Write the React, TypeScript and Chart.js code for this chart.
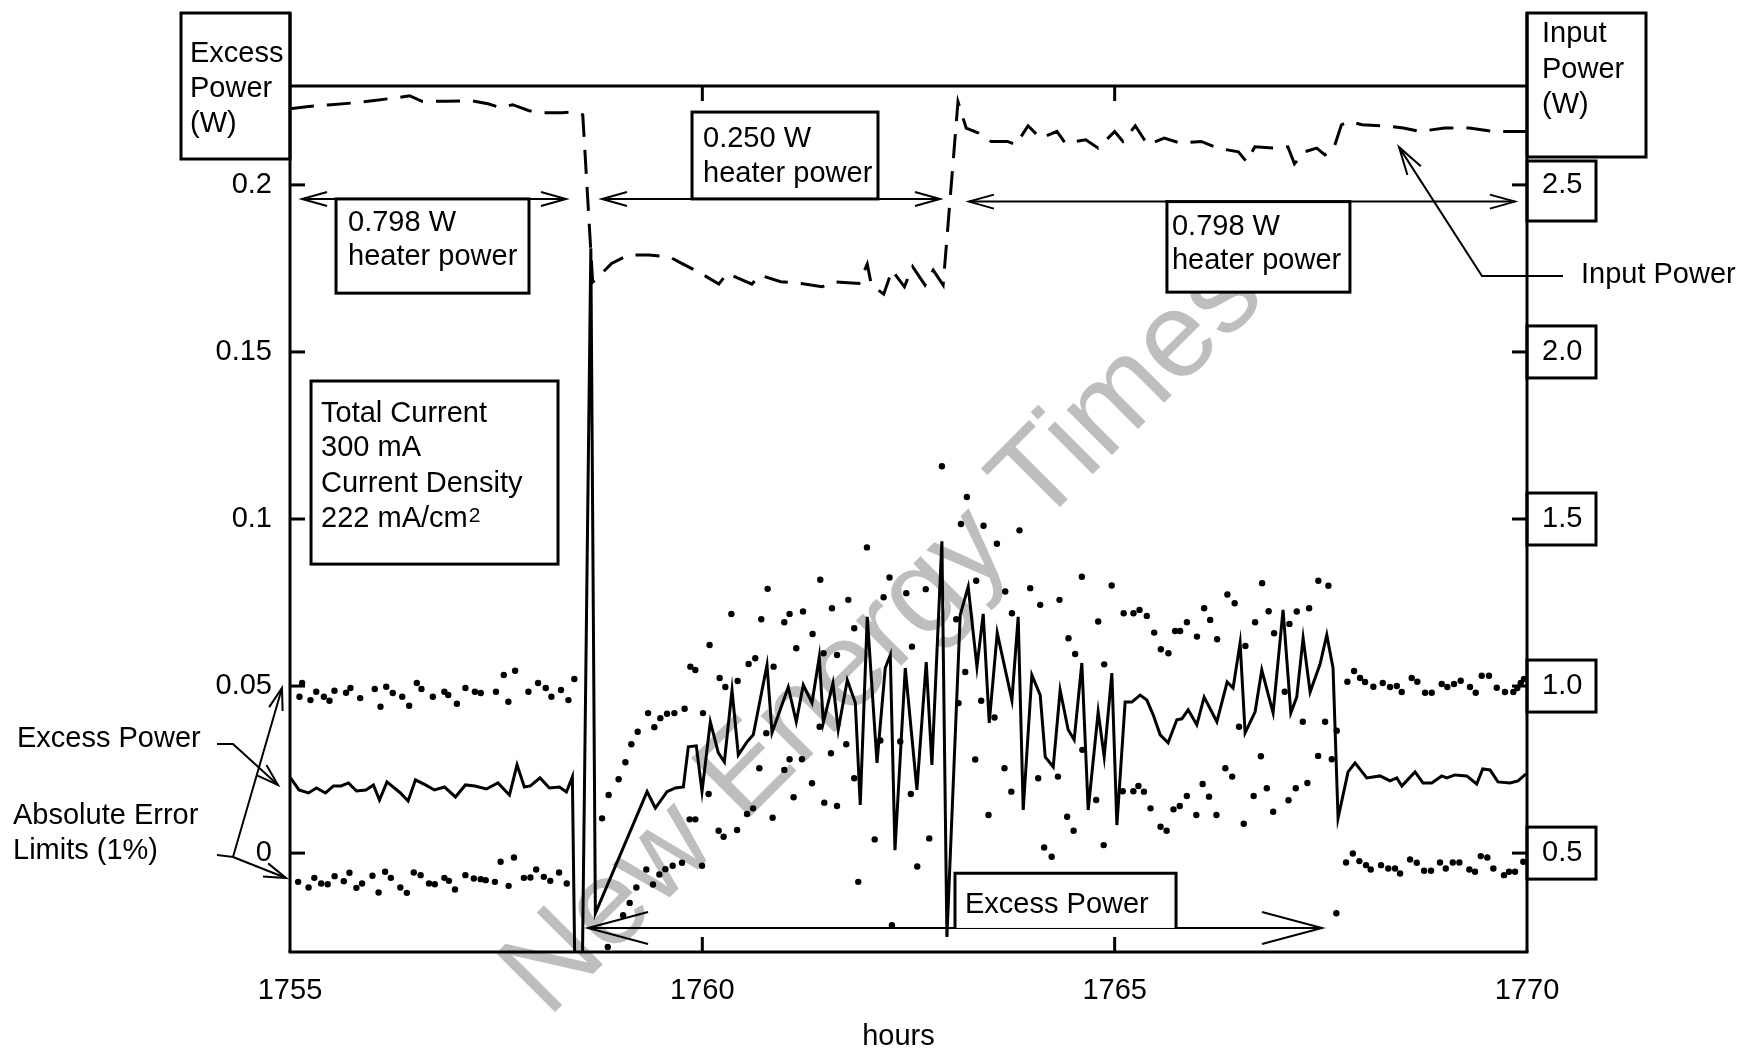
import React, { useEffect, useRef } from 'react';
import { Chart, registerables } from 'chart.js';

Chart.register(...registerables);

const FONT = "'Liberation Sans', Arial, Helvetica, sans-serif";

// ---------------- data ----------------
// Excess power (W, left axis) versus time (hours)
const excessHours = [
  1755.006, 1755.109, 1755.224, 1755.321, 1755.430, 1755.527, 1755.619, 1755.709, 1755.806, 1755.921,
  1756.012, 1756.085, 1756.176, 1756.339, 1756.432, 1756.521, 1756.642, 1756.752, 1756.873, 1757.006,
  1757.127, 1757.242, 1757.382, 1757.521, 1757.661, 1757.753, 1757.842, 1757.915, 1758.032, 1758.145,
  1758.267, 1758.352, 1758.424, 1758.467, 1758.533, 1758.648, 1758.703,
  1759.330, 1759.430, 1759.572, 1759.673, 1759.770, 1759.830, 1759.927, 1759.996, 1760.097, 1760.194,
  1760.267, 1760.360, 1760.436, 1760.542, 1760.618, 1760.784, 1760.845, 1761.042, 1761.139, 1761.224,
  1761.330, 1761.418, 1761.467, 1761.584, 1761.648, 1761.758, 1761.855, 1761.915, 1762.000, 1762.118,
  1762.218, 1762.279, 1762.336, 1762.461, 1762.602, 1762.715, 1762.784, 1762.905, 1762.966, 1763.127,
  1763.224, 1763.330, 1763.406, 1763.479, 1763.576, 1763.754, 1763.830, 1763.891, 1763.996, 1764.097,
  1764.158, 1764.255, 1764.339, 1764.436, 1764.509, 1764.602, 1764.679, 1764.800, 1764.873, 1764.966,
  1765.027, 1765.127, 1765.208, 1765.309, 1765.390, 1765.467, 1765.552, 1765.648, 1765.754, 1765.815,
  1765.891, 1765.996, 1766.085, 1766.239, 1766.364, 1766.436, 1766.521, 1766.582, 1766.703, 1766.784,
  1766.921, 1767.042, 1767.136, 1767.208, 1767.285, 1767.370, 1767.491, 1767.572, 1767.648, 1767.709,
  1767.830, 1767.915, 1768.057, 1768.218, 1768.339, 1768.421, 1768.482, 1768.642, 1768.739, 1768.845,
  1768.966, 1769.027, 1769.127, 1769.269, 1769.390, 1769.463, 1769.552, 1769.648, 1769.794, 1769.891,
  1769.988,
];
const excessWatts = [
  0.0225, 0.0189, 0.0180, 0.0195, 0.0180, 0.0201, 0.0201, 0.0210, 0.0186, 0.0189,
  0.0204, 0.0159, 0.0213, 0.0180, 0.0156, 0.0219, 0.0204, 0.0189, 0.0198, 0.0168,
  0.0204, 0.0201, 0.0192, 0.0210, 0.0174, 0.0264, 0.0198, 0.0201, 0.0225, 0.0195,
  0.0198, 0.0183, 0.0228, -0.059, -0.059, 0.181, -0.018,
  0.0184, 0.0135, 0.0184, 0.0195, 0.0198, 0.0318, 0.0321, 0.0184, 0.0393, 0.0300,
  0.0273, 0.0488, 0.0294, 0.0333, 0.0354, 0.0563, 0.0360, 0.0497, 0.0393, 0.0503,
  0.0450, 0.0587, 0.0390, 0.0509, 0.0369, 0.0518, 0.0450, 0.0144, 0.0707, 0.0270,
  0.0554, 0.0593, 0.0009, 0.0554, 0.0189, 0.0572, 0.0264, 0.0933, -0.0251, 0.0713,
  0.0797, 0.0557, 0.0716, 0.0390, 0.0659, 0.0458, 0.0707, 0.0129, 0.0533, 0.0473,
  0.0288, 0.0258, 0.0488, 0.0369, 0.0339, 0.0569, 0.0129, 0.0423, 0.0288, 0.0539,
  0.0084, 0.0452, 0.0452, 0.0473, 0.0458, 0.0414, 0.0354, 0.0330, 0.0399, 0.0402,
  0.0429, 0.0384, 0.0467, 0.0393, 0.0512, 0.0494, 0.0629, 0.0360, 0.0423, 0.0548,
  0.0420, 0.0728, 0.0420, 0.0467, 0.0644, 0.0482, 0.0566, 0.0653, 0.0554, 0.0105,
  0.0243, 0.0270, 0.0225, 0.0231, 0.0216, 0.0225, 0.0201, 0.0243, 0.0210, 0.0210,
  0.0231, 0.0225, 0.0234, 0.0231, 0.0207, 0.0252, 0.0249, 0.0213, 0.0210, 0.0216,
  0.0237,
];

// Input power (W, right axis)
const inputHours = [
  1755.0, 1755.2, 1755.5, 1755.8, 1756.0, 1756.3, 1756.45, 1756.6, 1756.9, 1757.2,
  1757.4, 1757.55, 1757.7, 1757.9, 1758.1, 1758.3, 1758.45, 1758.55, 1758.67, 1758.8,
  1758.9, 1759.1, 1759.35, 1759.6, 1759.75, 1759.95, 1760.2, 1760.3, 1760.6, 1760.7,
  1760.95, 1761.2, 1761.45, 1761.6, 1761.9, 1762.0, 1762.05, 1762.2, 1762.3, 1762.45,
  1762.55, 1762.7, 1762.8, 1762.92, 1763.1, 1763.2, 1763.35, 1763.5, 1763.7, 1763.8,
  1763.95, 1764.1, 1764.3, 1764.4, 1764.65, 1764.8, 1765.0, 1765.1, 1765.25, 1765.4,
  1765.6, 1765.8, 1766.05, 1766.25, 1766.5, 1766.6, 1766.7, 1766.95, 1767.1, 1767.18,
  1767.3, 1767.45, 1767.55, 1767.65, 1767.75, 1767.85, 1768.0, 1768.3, 1768.5, 1768.7,
  1769.0, 1769.3, 1769.6, 1770.0,
];
const inputWatts = [
  2.728, 2.734, 2.740, 2.746, 2.752, 2.761, 2.767, 2.750, 2.750, 2.752,
  2.743, 2.731, 2.740, 2.722, 2.716, 2.716, 2.719, 2.710, 2.209, 2.240,
  2.265, 2.290, 2.290, 2.285, 2.265, 2.240, 2.203, 2.235, 2.203, 2.230,
  2.210, 2.205, 2.195, 2.210, 2.205, 2.263, 2.200, 2.173, 2.245, 2.195,
  2.255, 2.200, 2.245, 2.200, 2.749, 2.670, 2.655, 2.630, 2.630, 2.620,
  2.677, 2.640, 2.660, 2.625, 2.635, 2.610, 2.660, 2.630, 2.677, 2.620,
  2.640, 2.625, 2.630, 2.610, 2.599, 2.569, 2.614, 2.610, 2.614, 2.563,
  2.599, 2.610, 2.590, 2.605, 2.680, 2.690, 2.680, 2.676, 2.670, 2.660,
  2.670, 2.670, 2.660, 2.660,
];

// Absolute error limits (1%) — upper dots
const upperHoursA = [
  1755.115, 1755.147, 1755.248, 1755.318, 1755.411, 1755.479, 1755.539, 1755.680, 1755.733, 1755.851,
  1756.028, 1756.097, 1756.167, 1756.246, 1756.361, 1756.445, 1756.538, 1756.594, 1756.732, 1756.872,
  1756.919, 1757.024, 1757.127, 1757.242, 1757.313, 1757.498, 1757.592, 1757.648, 1757.730, 1757.891,
  1758.008, 1758.101, 1758.170, 1758.286, 1758.376, 1758.448,
];
const upperWattsA = [
  0.0468, 0.0509, 0.0458, 0.0483, 0.0468, 0.0456, 0.0486, 0.0480, 0.0494, 0.0464,
  0.0491, 0.0438, 0.0498, 0.0479, 0.0468, 0.0441, 0.0509, 0.0491, 0.0468, 0.0483,
  0.0473, 0.0447, 0.0494, 0.0483, 0.0479, 0.0483, 0.0533, 0.0453, 0.0546, 0.0483,
  0.0509, 0.0494, 0.0468, 0.0488, 0.0458, 0.0521,
];
const upperHoursB = [
  1758.784, 1758.864, 1758.985, 1759.067, 1759.139, 1759.216, 1759.342, 1759.418, 1759.491, 1759.572,
  1759.661, 1759.785, 1759.855, 1759.915, 1760.008, 1760.088, 1760.210, 1760.279, 1760.352, 1760.428,
  1760.561, 1760.642, 1760.715, 1760.792, 1760.864, 1760.994, 1761.058, 1761.139, 1761.221, 1761.337,
  1761.430, 1761.470, 1761.572, 1761.633, 1761.770, 1761.842, 1761.996, 1762.198, 1762.270, 1762.473,
  1762.542, 1762.709, 1762.905, 1763.079, 1763.136, 1763.208, 1763.321, 1763.410, 1763.572, 1763.673,
  1763.754, 1763.846, 1763.976, 1764.097, 1764.331, 1764.440, 1764.521, 1764.602, 1764.800, 1764.873,
  1764.964, 1765.109, 1765.228, 1765.301, 1765.390, 1765.479, 1765.560, 1765.652, 1765.733, 1765.794,
  1765.876, 1765.998, 1766.085, 1766.158, 1766.242, 1766.367, 1766.455, 1766.585, 1766.703, 1766.788,
  1766.867, 1766.933, 1767.119, 1767.208, 1767.358, 1767.470, 1767.592, 1767.693,
];
const upperWattsB = [
  0.0104, 0.0174, 0.0221, 0.0272, 0.0326, 0.0363, 0.0419, 0.0377, 0.0404, 0.0417,
  0.0419, 0.0432, 0.0558, 0.0548, 0.0419, 0.0623, 0.0524, 0.0497, 0.0716, 0.0515,
  0.0566, 0.0583, 0.0700, 0.0791, 0.0558, 0.0691, 0.0716, 0.0613, 0.0723, 0.0656,
  0.0818, 0.0598, 0.0733, 0.0593, 0.0758, 0.0673, 0.0915, 0.0766, 0.0825, 0.0778,
  0.0618, 0.0790, 0.1158, 0.0700, 0.0985, 0.1066, 0.0815, 0.0980, 0.0926, 0.0783,
  0.0718, 0.0966, 0.0793, 0.0743, 0.0758, 0.0643, 0.0596, 0.0827, 0.0693, 0.0565,
  0.0801, 0.0718, 0.0718, 0.0728, 0.0710, 0.0660, 0.0610, 0.0598, 0.0665, 0.0665,
  0.0691, 0.0648, 0.0733, 0.0698, 0.0640, 0.0774, 0.0748, 0.0620, 0.0691, 0.0808,
  0.0724, 0.0658, 0.0686, 0.0723, 0.0733, 0.0815, 0.0800, 0.0366,
];
const upperHoursC = [
  1767.822, 1767.903, 1767.976, 1768.036, 1768.137, 1768.251, 1768.339, 1768.421, 1768.481, 1768.602,
  1768.670, 1768.764, 1768.845, 1768.966, 1769.034, 1769.115, 1769.196, 1769.309, 1769.378, 1769.451,
  1769.539, 1769.633, 1769.733, 1769.834, 1769.882, 1769.924, 1769.964,
];
const upperWattsC = [
  0.0513, 0.0545, 0.0524, 0.0512, 0.0498, 0.0509, 0.0497, 0.0500, 0.0482, 0.0524,
  0.0513, 0.0480, 0.0480, 0.0506, 0.0497, 0.0506, 0.0516, 0.0497, 0.0480, 0.0531,
  0.0531, 0.0495, 0.0482, 0.0482, 0.0494, 0.0509, 0.0521,
];

// Absolute error limits (1%) — lower dots
const lowerHoursA = [
  1755.099, 1755.225, 1755.295, 1755.378, 1755.457, 1755.541, 1755.652, 1755.721, 1755.805, 1755.874,
  1756.000, 1756.074, 1756.153, 1756.223, 1756.338, 1756.417, 1756.501, 1756.584, 1756.686, 1756.756,
  1756.872, 1756.927, 1757.001, 1757.127, 1757.229, 1757.313, 1757.373, 1757.485, 1757.554, 1757.651,
  1757.716, 1757.836, 1757.915, 1757.985, 1758.078, 1758.156, 1758.263, 1758.356,
];
const lowerWattsA = [
  -0.0086, -0.0103, -0.0074, -0.0091, -0.0093, -0.0069, -0.0084, -0.0059, -0.0104, -0.0091,
  -0.0068, -0.0118, -0.0056, -0.0074, -0.0103, -0.0119, -0.0058, -0.0066, -0.0091, -0.0093,
  -0.0074, -0.0083, -0.0109, -0.0066, -0.0076, -0.0078, -0.0081, -0.0086, -0.0026, -0.0098,
  -0.0013, -0.0074, -0.0073, -0.0049, -0.0071, -0.0083, -0.0058, -0.0091,
];
const lowerHoursB = [
  1758.853, 1759.039, 1759.119, 1759.200, 1759.321, 1759.402, 1759.479, 1759.552, 1759.640, 1759.754,
  1759.846, 1759.915, 1759.996, 1760.076, 1760.198, 1760.258, 1760.421, 1760.542, 1760.615, 1760.691,
  1760.776, 1760.852, 1760.994, 1761.058, 1761.107, 1761.208, 1761.330, 1761.422, 1761.479, 1761.560,
  1761.633, 1761.745, 1761.842, 1761.891, 1762.090, 1762.158, 1762.299, 1762.400, 1762.528, 1762.606,
  1762.752, 1763.107, 1763.188, 1763.309, 1763.382, 1763.470, 1763.543, 1763.664, 1763.747, 1764.073,
  1764.145, 1764.236, 1764.312, 1764.424, 1764.502, 1764.608, 1764.776, 1764.867, 1765.098, 1765.227,
  1765.288, 1765.355, 1765.435, 1765.556, 1765.630, 1765.713, 1765.789, 1765.875, 1765.990, 1766.067,
  1766.144, 1766.234, 1766.342, 1766.425, 1766.508, 1766.565, 1766.685, 1766.773, 1766.845, 1766.922,
  1767.062, 1767.108, 1767.196, 1767.281, 1767.337, 1767.467, 1767.552, 1767.633, 1767.688,
];
const lowerWattsB = [
  -0.0281, -0.0186, -0.0149, -0.0103, -0.0049, -0.0094, -0.0064, -0.0048, -0.0038, -0.0029,
  0.0101, 0.0101, -0.0038, 0.0177, 0.0067, 0.0049, 0.0069, 0.0117, 0.0134, 0.0254,
  0.0359, 0.0106, 0.0249, 0.0281, 0.0167, 0.0281, 0.0209, 0.0378, 0.0151, 0.0299,
  0.0141, 0.0326, 0.0224, -0.0086, 0.0041, 0.0337, -0.0216, 0.0334, 0.0177, -0.0040,
  0.0044, 0.0449, 0.0542, 0.0280, 0.0456, 0.0114, 0.0406, 0.0254, 0.0184, 0.0224,
  0.0017, -0.0011, 0.0229, 0.0109, 0.0067, 0.0309, 0.0159, 0.0024, 0.0185, 0.0185,
  0.0201, 0.0184, 0.0134, 0.0079, 0.0067, 0.0131, 0.0141, 0.0171, 0.0114, 0.0207,
  0.0169, 0.0114, 0.0254, 0.0229, 0.0378, 0.0088, 0.0171, 0.0290, 0.0194, 0.0124,
  0.0483, 0.0158, 0.0194, 0.0393, 0.0210, 0.0291, 0.0393, 0.0281, -0.0180,
];
const lowerHoursC = [
  1767.806, 1767.888, 1767.967, 1768.048, 1768.105, 1768.230, 1768.318, 1768.400, 1768.461, 1768.582,
  1768.663, 1768.752, 1768.836, 1768.945, 1769.015, 1769.100, 1769.180, 1769.301, 1769.370, 1769.439,
  1769.519, 1769.592, 1769.721, 1769.782, 1769.855, 1769.955,
];
const lowerWattsC = [
  -0.0028, -0.0001, -0.0024, -0.0036, -0.0049, -0.0036, -0.0046, -0.0046, -0.0061, -0.0019,
  -0.0029, -0.0053, -0.0053, -0.0028, -0.0046, -0.0028, -0.0028, -0.0049, -0.0056, -0.0009,
  -0.0013, -0.0046, -0.0066, -0.0056, -0.0056, -0.0026,
];

// ticks
const xTickValues = [1755, 1760, 1765, 1770];
const xTickLabels = ['1755', '1760', '1765', '1770'];
const leftTickValues = [0, 0.05, 0.1, 0.15, 0.2];
const leftTickLabels = ['0', '0.05', '0.1', '0.15', '0.2'];
const rightTickValues = [0.5, 1.0, 1.5, 2.0, 2.5];
const rightTickLabels = ['0.5', '1.0', '1.5', '2.0', '2.5'];

// annotations (in data units: hours / excess W / input W)
const heaterSpans = [
  { from: 1755.146, to: 1758.347, level: 0.1958, box: [1755.558, 1757.898, 0.1958, 0.1676], text: ['0.798 W', 'heater power'], dx: 12, base: [32, 66] },
  { from: 1758.783, to: 1762.882, level: 0.1958, box: [1759.875, 1762.130, 0.2218, 0.1958], text: ['0.250 W', 'heater power'], dx: 11, base: [35, 70] },
  { from: 1763.233, to: 1769.853, level: 0.1950, box: [1765.634, 1767.853, 0.1950, 0.1679], text: ['0.798 W', 'heater power'], dx: 5, base: [33.5, 67.5] },
];
const currentBox = { box: [1755.255, 1758.250, 0.1413, 0.0865], text: ['Total Current', '300 mA', 'Current Density', '222 mA/cm'] };
const excessSpan = { from: 1758.614, to: 1767.514, level: -0.0224, box: [1763.064, 1765.744, -0.0060], text: 'Excess Power' };
const inputPointer = { tipHour: 1768.448, tipWatt: 2.613, elbowHour: 1769.454, elbowWatt: 2.227, endHour: 1770.436 };

const pts = (hs: number[], vs: number[]) => hs.map((h, i) => ({ x: h, y: vs[i] }));

function seg(ctx: CanvasRenderingContext2D, p: number[][]) {
  ctx.beginPath();
  ctx.moveTo(p[0][0], p[0][1]);
  for (let i = 1; i < p.length; i++) ctx.lineTo(p[i][0], p[i][1]);
  ctx.stroke();
}
function head(ctx: CanvasRenderingContext2D, fx: number, fy: number, tx: number, ty: number, len: number, half: number) {
  const ang = Math.atan2(ty - fy, tx - fx);
  const bx = tx - len * Math.cos(ang);
  const by = ty - len * Math.sin(ang);
  const px = -Math.sin(ang) * half;
  const py = Math.cos(ang) * half;
  seg(ctx, [[bx + px, by + py], [tx, ty], [bx - px, by - py]]);
}

const overlayPlugin = {
  id: 'overlay',
  beforeDatasetsDraw(chart: any) {
    const ctx: CanvasRenderingContext2D = chart.ctx;
    ctx.save();
    ctx.translate(548, 1019);
    ctx.rotate(-Math.PI / 4);
    ctx.font = `121px ${FONT}`;
    ctx.fillStyle = '#bebebe';
    ctx.textAlign = 'left';
    ctx.textBaseline = 'alphabetic';
    ctx.fillText('New Energy Times', 0, 0);
    ctx.restore();
  },
  afterDatasetsDraw(chart: any) {
    const ctx: CanvasRenderingContext2D = chart.ctx;
    const a = chart.chartArea;
    const sx = chart.scales.x, sy = chart.scales.y, sr = chart.scales.y1;
    const X = (h: number) => sx.getPixelForValue(h);
    const Y = (e: number) => sy.getPixelForValue(e);
    const R = (v: number) => sr.getPixelForValue(v);
    ctx.save();
    ctx.strokeStyle = '#000';
    ctx.fillStyle = '#000';
    ctx.lineCap = 'butt';

    // frame
    ctx.lineWidth = 3;
    seg(ctx, [[a.left, a.top], [a.right, a.top]]);
    seg(ctx, [[a.left - 1.5, a.bottom], [a.right + 1.5, a.bottom]]);
    seg(ctx, [[a.left, 13], [a.left, a.bottom]]);
    seg(ctx, [[a.right, 13], [a.right, a.bottom]]);

    // inward ticks
    leftTickValues.forEach((v) => { const p = Y(v); seg(ctx, [[a.left, p], [a.left + 15, p]]); });
    rightTickValues.forEach((v) => { const p = R(v); seg(ctx, [[a.right - 15, p], [a.right, p]]); });
    xTickValues.slice(1, -1).forEach((v) => {
      const p = X(v);
      seg(ctx, [[p, a.bottom], [p, a.bottom - 15]]);
      seg(ctx, [[p, a.top], [p, a.top + 15]]);
    });

    // axis title boxes
    ctx.strokeRect(181, 13, a.left - 181, 146);
    ctx.strokeRect(a.right, 13, 119, 144);
    rightTickValues.forEach((v, i) => {
      const p = R(v);
      const top = i === rightTickValues.length - 1 ? 161 : p - 26;
      const bot = i === rightTickValues.length - 1 ? 221 : p + 26;
      ctx.strokeRect(a.right, top, 69, bot - top);
    });

    ctx.font = `29px ${FONT}`;
    ctx.textAlign = 'left';
    ctx.textBaseline = 'alphabetic';
    ['Excess', 'Power', '(W)'].forEach((t, i) => ctx.fillText(t, 190, 62 + 35 * i));
    ['Input', 'Power', '(W)'].forEach((t, i) => ctx.fillText(t, a.right + 15, 42 + 35.5 * i));
    ctx.textAlign = 'center';
    ctx.fillText('hours', (a.left + a.right) / 2 - 10, 1045);
    ctx.textAlign = 'left';

    // heater power spans
    heaterSpans.forEach((s) => {
      const yl = Y(s.level);
      const x1 = X(s.from), x2 = X(s.to);
      ctx.lineWidth = 2;
      seg(ctx, [[x1, yl], [x2, yl]]);
      head(ctx, x2, yl, x1, yl, 25, 7);
      head(ctx, x1, yl, x2, yl, 25, 7);
      const bl = X(s.box[0]), br = X(s.box[1]), bt = Y(s.box[2]), bb = Y(s.box[3]);
      ctx.fillStyle = '#fff';
      ctx.fillRect(bl, bt, br - bl, bb - bt);
      ctx.lineWidth = 3;
      ctx.strokeRect(bl, bt, br - bl, bb - bt);
      ctx.fillStyle = '#000';
      s.text.forEach((t, i) => ctx.fillText(t, bl + s.dx, bt + s.base[i]));
    });

    // total current box
    {
      const b = currentBox.box;
      const bl = X(b[0]), br = X(b[1]), bt = Y(b[2]), bb = Y(b[3]);
      ctx.fillStyle = '#fff';
      ctx.fillRect(bl, bt, br - bl, bb - bt);
      ctx.lineWidth = 3;
      ctx.strokeRect(bl, bt, br - bl, bb - bt);
      ctx.fillStyle = '#000';
      const bases = [41, 75, 111, 146];
      currentBox.text.forEach((t, i) => ctx.fillText(t, bl + 10, bt + bases[i]));
      const w = ctx.measureText(currentBox.text[3]).width;
      ctx.font = `21px ${FONT}`;
      ctx.fillText('2', bl + 10 + w + 1, bt + bases[3] - 5);
      ctx.font = `29px ${FONT}`;
    }

    // excess power span (bottom)
    {
      const yl = Y(excessSpan.level);
      const x1 = X(excessSpan.from), x2 = X(excessSpan.to);
      ctx.lineWidth = 2;
      seg(ctx, [[x1, yl], [x2, yl]]);
      head(ctx, x2, yl, x1, yl, 60, 16);
      head(ctx, x1, yl, x2, yl, 60, 16);
      const bl = X(excessSpan.box[0]), br = X(excessSpan.box[1]), bt = Y(excessSpan.box[2]);
      ctx.fillStyle = '#fff';
      ctx.fillRect(bl, bt, br - bl, yl - bt);
      ctx.lineWidth = 3;
      seg(ctx, [[bl, yl], [bl, bt], [br, bt], [br, yl]]);
      ctx.fillStyle = '#000';
      ctx.fillText(excessSpan.text, bl + 10, bt + 40);
    }

    // input power pointer
    {
      const tx = X(inputPointer.tipHour), ty = R(inputPointer.tipWatt);
      const ex = X(inputPointer.elbowHour), ey = R(inputPointer.elbowWatt);
      const endX = X(inputPointer.endHour);
      ctx.lineWidth = 2;
      seg(ctx, [[endX, ey], [ex, ey], [tx, ty]]);
      head(ctx, ex, ey, tx, ty, 28, 8);
      ctx.fillText('Input Power', endX + 18, ey + 7);
    }

    // left-hand legend pointers
    ctx.fillText('Excess Power', 17, 747);
    ctx.fillText('Absolute Error', 13, 824);
    ctx.fillText('Limits (1%)', 13, 859);
    ctx.lineWidth = 2;
    seg(ctx, [[217, 744], [233, 744], [278, 785]]);
    head(ctx, 233, 744, 278, 785, 22, 7);
    seg(ctx, [[217, 855], [233, 857], [282, 688]]);
    head(ctx, 233, 857, 282, 688, 22, 7);
    seg(ctx, [[233, 857], [286, 878]]);
    head(ctx, 233, 857, 286, 878, 22, 7);

    ctx.restore();
  },
};

export default function App() {
  const ref = useRef<HTMLCanvasElement | null>(null);
  useEffect(() => {
    if (!ref.current) return;
    Chart.defaults.font.family = FONT;
    Chart.defaults.font.size = 29;
    Chart.defaults.color = '#000';
    const tickFont = { family: FONT, size: 29 };
    const chart = new Chart(ref.current, {
      type: 'line',
      data: {
        datasets: [
          {
            label: 'Input Power',
            data: pts(inputHours, inputWatts),
            xAxisID: 'x',
            yAxisID: 'y1',
            borderColor: '#000',
            borderWidth: 3,
            borderDash: [24, 13],
            pointRadius: 0,
            tension: 0,
            fill: false,
          },
          {
            label: 'Excess Power',
            data: pts(excessHours, excessWatts),
            xAxisID: 'x',
            yAxisID: 'y',
            borderColor: '#000',
            borderWidth: 3,
            pointRadius: 0,
            tension: 0,
            fill: false,
          },
          {
            type: 'scatter',
            label: 'Upper Error Limit',
            data: [...pts(upperHoursA, upperWattsA), ...pts(upperHoursB, upperWattsB), ...pts(upperHoursC, upperWattsC)],
            xAxisID: 'x',
            yAxisID: 'y',
            showLine: false,
            pointRadius: 3.2,
            pointBackgroundColor: '#000',
            pointBorderWidth: 0,
          },
          {
            type: 'scatter',
            label: 'Lower Error Limit',
            data: [...pts(lowerHoursA, lowerWattsA), ...pts(lowerHoursB, lowerWattsB), ...pts(lowerHoursC, lowerWattsC)],
            xAxisID: 'x',
            yAxisID: 'y',
            showLine: false,
            pointRadius: 3.2,
            pointBackgroundColor: '#000',
            pointBorderWidth: 0,
          },
        ] as any,
      },
      options: {
        responsive: false,
        maintainAspectRatio: false,
        animation: false,
        layout: { padding: { top: 86, left: 0, right: 0, bottom: 0 } },
        plugins: { legend: { display: false }, tooltip: { enabled: false }, title: { display: false } },
        scales: {
          x: {
            type: 'linear',
            position: 'bottom',
            min: 1755,
            max: 1770,
            afterFit: (s: any) => { s.height = 100; },
            afterBuildTicks: (s: any) => { s.ticks = xTickValues.map((v) => ({ value: v })); },
            ticks: {
              font: tickFont,
              color: '#000',
              padding: 22,
              maxRotation: 0,
              autoSkip: false,
              callback: (_v: any, i: number) => xTickLabels[i],
            },
            grid: { display: false, drawTicks: false },
            border: { display: false },
          },
          y: {
            type: 'linear',
            position: 'left',
            min: -0.0296,
            max: 0.2296,
            afterFit: (s: any) => { s.width = 290; },
            afterBuildTicks: (s: any) => { s.ticks = leftTickValues.map((v) => ({ value: v })); },
            ticks: {
              font: tickFont,
              color: '#000',
              padding: 18,
              autoSkip: false,
              callback: (_v: any, i: number) => leftTickLabels[i],
            },
            grid: { display: false, drawTicks: false },
            border: { display: false },
          },
          y1: {
            type: 'linear',
            position: 'right',
            min: 0.204,
            max: 2.796,
            afterFit: (s: any) => { s.width = 229; },
            afterBuildTicks: (s: any) => { s.ticks = rightTickValues.map((v) => ({ value: v })); },
            ticks: {
              font: tickFont,
              color: '#000',
              padding: 15,
              autoSkip: false,
              callback: (_v: any, i: number) => rightTickLabels[i],
            },
            grid: { display: false, drawTicks: false },
            border: { display: false },
          },
        },
      } as any,
      plugins: [overlayPlugin as any],
    });
    return () => chart.destroy();
  }, []);

  return (
    <div style={{ position: 'absolute', left: 0, top: 0, width: 1756, height: 1052, background: '#fff' }}>
      <canvas ref={ref} width={1756} height={1052} style={{ display: 'block', width: 1756, height: 1052 }} />
    </div>
  );
}
